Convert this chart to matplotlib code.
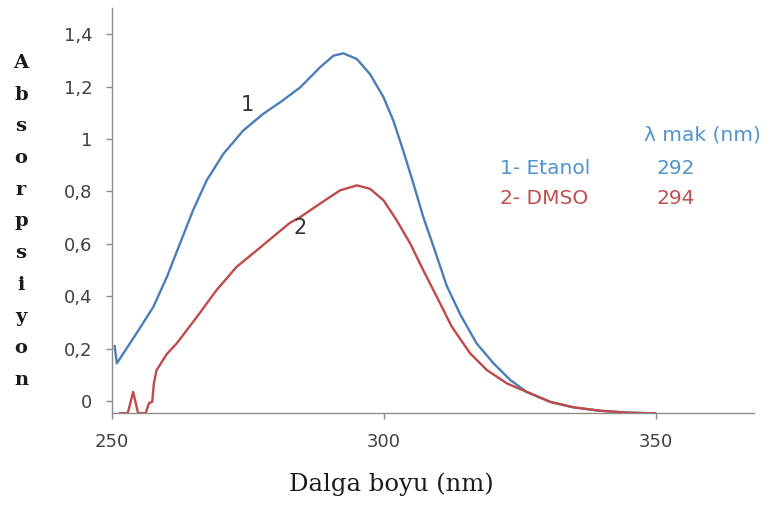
import matplotlib
matplotlib.use("Agg")
import matplotlib.pyplot as plt

# wavelength (nm) / absorbance
etanol_x = [250.5, 250.9, 254.5, 257.6, 260.1, 262.5, 264.9, 267.4, 270.5, 274.1, 277.8,
            280.9, 284.6, 288.2, 290.7, 292.5, 295.0, 297.4, 299.9, 301.7, 303.5, 305.4,
            307.2, 309.1, 311.5, 314.0, 317.0, 320.1, 323.2, 326.2, 330.5, 334.8, 339.7,
            344.6, 349.8]
etanol_y = [0.21, 0.144, 0.258, 0.359, 0.474, 0.601, 0.728, 0.842, 0.944, 1.032, 1.096,
            1.140, 1.197, 1.273, 1.318, 1.327, 1.305, 1.248, 1.159, 1.070, 0.956, 0.829,
            0.702, 0.588, 0.44, 0.33, 0.220, 0.144, 0.080, 0.035, -0.003, -0.024, -0.037,
            -0.044, -0.047]

dmso_x = [251.5, 252.9, 253.9, 254.8, 256.2, 256.8, 257.4, 257.7, 258.2, 260.1, 261.9,
          265.6, 269.2, 272.9, 276.6, 280.3, 282.7, 284.6, 288.2, 291.9, 295.0, 297.4,
          299.9, 302.3, 304.8, 307.2, 309.7, 312.4, 315.8, 318.9, 322.6, 326.2, 330.5,
          334.8, 339.7, 344.6, 349.8]
dmso_y = [-0.046, -0.046, 0.035, -0.046, -0.046, -0.008, -0.003, 0.067, 0.118, 0.18, 0.220,
          0.321, 0.423, 0.512, 0.575, 0.639, 0.680, 0.702, 0.753, 0.804, 0.823, 0.810,
          0.766, 0.690, 0.601, 0.499, 0.397, 0.285, 0.182, 0.118, 0.067, 0.035, -0.003,
          -0.024, -0.037, -0.044, -0.047]

y_ticks = [0, 0.2, 0.4, 0.6, 0.8, 1.0, 1.2, 1.4]
y_tick_labels = ["0", "0,2", "0,4", "0,6", "0,8", "1", "1,2", "1,4"]
x_ticks = [250, 300, 350]

legend_rows = [("1- Etanol", "292"), ("2- DMSO", "294")]
ylabel_letters = list("Absorpsiyon")

BLUE = "#4a7ebb"
RED = "#be4b48"
BLUE_TXT = "#4f93cf"
RED_TXT = "#c0504d"

fig = plt.figure(figsize=(7.72, 5.31), dpi=100)
ax = fig.add_axes([0.145, 0.222, 0.832, 0.763])

ax.plot(etanol_x, etanol_y, color=BLUE, lw=1.7, solid_joinstyle="round")
ax.plot(dmso_x, dmso_y, color=RED, lw=1.7, solid_joinstyle="round")

ax.set_xlim(250, 368)
ax.set_ylim(-0.046, 1.5)
ax.set_xticks(x_ticks)
ax.set_yticks(y_ticks, y_tick_labels)

for side in ["top", "right"]:
    ax.spines[side].set_visible(False)
for side in ["left", "bottom"]:
    ax.spines[side].set_color("#8c8c8c")
    ax.spines[side].set_linewidth(1.0)
ax.tick_params(colors="#8c8c8c", length=4, width=1.0, labelcolor="#404040",
               labelsize=13)
ax.tick_params(axis="y", pad=10)
ax.tick_params(axis="x", pad=10)

# curve numbers
ax.text(274.8, 1.128, "1", fontsize=15, color="#333333", ha="center", va="center")
ax.text(284.6, 0.659, "2", fontsize=15, color="#333333", ha="center", va="center")

# lambda max table
fig.text(702 / 772, 1 - 135 / 531, "\u03bb mak (nm)", fontsize=14.5, color=BLUE_TXT,
         ha="center", va="center")
row_colors = [BLUE_TXT, RED_TXT]
for i, (name, val) in enumerate(legend_rows):
    yy = 1 - (168 + 30 * i) / 531
    fig.text(500 / 772, yy, name, fontsize=14.5, color=row_colors[i],
             ha="left", va="center")
    fig.text(657 / 772, yy, val, fontsize=14.5, color=row_colors[i],
             ha="left", va="center")

# axis titles
fig.text(391 / 772, 1 - 484 / 531, "Dalga boyu (nm)", fontsize=17.5, color="#1a1a1a",
         family="DejaVu Serif", ha="center", va="center")
for i, ch in enumerate(ylabel_letters):
    fig.text(21 / 772, 1 - (63 + 31.7 * i) / 531, ch, fontsize=14, color="#1a1a1a",
             family="DejaVu Serif", fontweight="bold", ha="center", va="center")

fig.savefig("out.png", dpi=100)
